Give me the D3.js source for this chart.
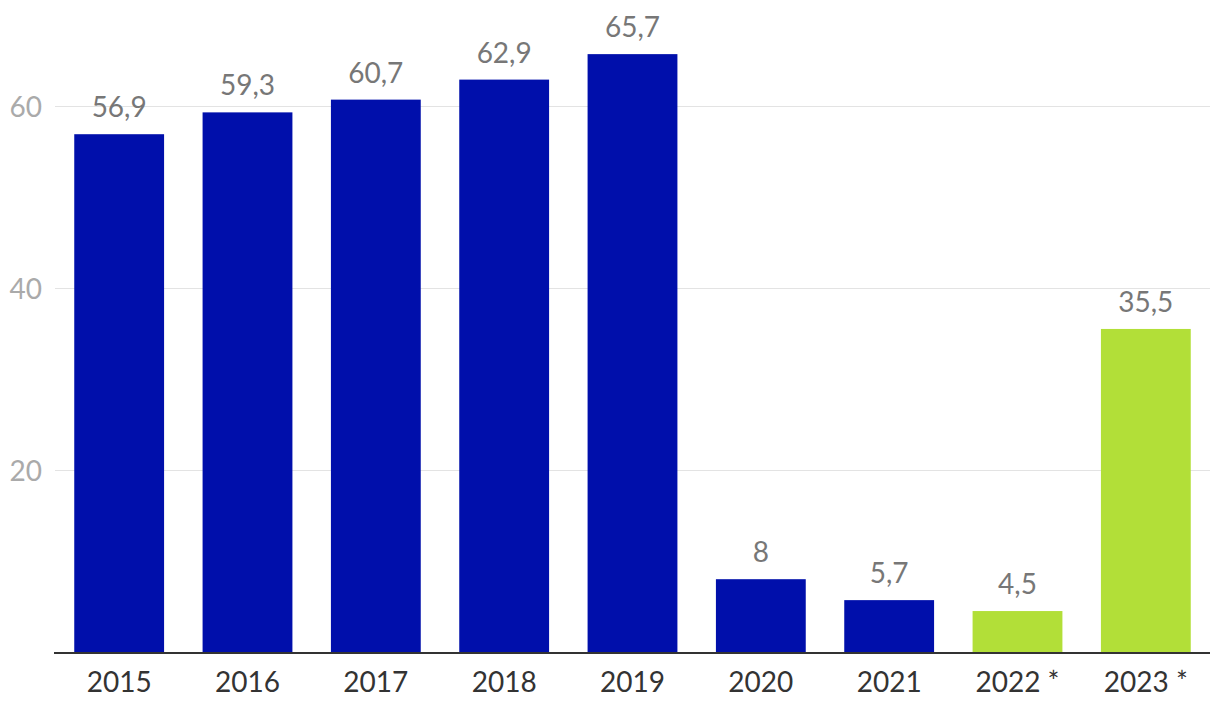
<!DOCTYPE html>
<html>
<head>
<meta charset="utf-8">
<script src="https://cdn.jsdelivr.net/npm/d3@7"></script>
<style>
  body { margin: 0; background: #fff; }
  text { font-family: Lato, 'Open Sans', sans-serif; }
</style>
</head>
<body>
<svg id="chart" width="1220" height="714"></svg>
<script>
const years = ['2015', '2016', '2017', '2018', '2019', '2020', '2021', '2022 *', '2023 *']
const values = [56.9, 59.3, 60.7, 62.9, 65.7, 8, 5.7, 4.5, 35.5]
const forecast = [false, false, false, false, false, false, false, true, true]
const yTicks = [20, 40, 60]

const left = 55
const right = 1210
const bottom = 652

const svg = d3.select('#chart')

const x = d3.scaleBand()
  .domain(years)
  .range([left, right])
  .paddingInner(0.3)
  .paddingOuter(0.15)

const y = d3.scaleLinear()
  .domain([0, 70])
  .range([bottom, bottom - 9.1 * 70])

// grid
svg.append('g')
  .selectAll('line')
  .data(yTicks)
  .enter().append('line')
  .attr('x1', left)
  .attr('x2', right)
  .attr('y1', d => Math.round(y(d)) + 0.5)
  .attr('y2', d => Math.round(y(d)) + 0.5)
  .style('stroke', '#e3e3e3')
  .style('stroke-width', 1)

svg.append('g')
  .selectAll('text')
  .data(yTicks)
  .enter().append('text')
  .attr('x', 42)
  .attr('y', d => y(d) + 1)
  .attr('dy', '0.35em')
  .attr('text-anchor', 'end')
  .style('font-size', '28px')
  .style('fill', '#aaaaaa')
  .text(d => d)

const fmt = v => String(v).replace('.', ',')

svg.append('g')
  .selectAll('rect')
  .data(values)
  .enter().append('rect')
  .attr('x', (d, i) => x(years[i]))
  .attr('y', d => y(d))
  .attr('width', x.bandwidth())
  .attr('height', d => y(0) - y(d))
  .style('fill', (d, i) => forecast[i] ? '#b2df38' : '#000fab')

svg.append('g')
  .selectAll('text')
  .data(values)
  .enter().append('text')
  .attr('x', (d, i) => x(years[i]) + x.bandwidth() / 2)
  .attr('y', d => y(d) - 17)
  .attr('text-anchor', 'middle')
  .style('font-size', '28px')
  .style('fill', '#777777')
  .text(fmt)

// baseline
svg.append('line')
  .attr('x1', left - 1)
  .attr('x2', right)
  .attr('y1', bottom + 1)
  .attr('y2', bottom + 1)
  .style('stroke', '#333333')
  .style('stroke-width', 2)

svg.append('g')
  .selectAll('text')
  .data(years)
  .enter().append('text')
  .attr('x', d => x(d) + x.bandwidth() / 2)
  .attr('y', 692)
  .attr('text-anchor', 'middle')
  .style('font-size', '28px')
  .style('fill', '#333333')
  .text(d => d)
</script>
</body>
</html>
